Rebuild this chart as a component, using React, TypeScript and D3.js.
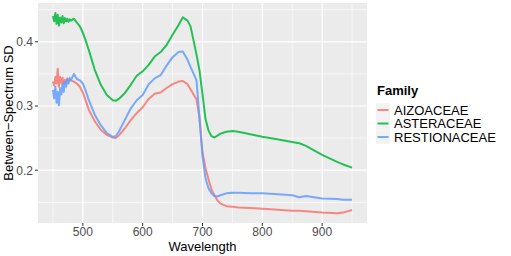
import React from 'react';
import * as d3 from 'd3';

// wavelengths shared by the three families
const wavelengths = [
  450, 452, 454, 456, 458, 460, 462, 464, 466, 468, 470, 472, 474, 476, 478, 480,
  485, 490, 495, 500, 505, 510, 520, 530, 540, 550, 555, 560, 570, 580, 590, 600,
  610, 620, 630, 640, 650, 660, 667, 675, 680, 690, 695, 700, 705, 710, 715, 720,
  725, 730, 740, 750, 760, 780, 800, 820, 850, 862, 873, 900, 925, 935, 950,
];

const aizoaceae = [
  0.338, 0.332, 0.345, 0.335, 0.358, 0.330, 0.345, 0.336, 0.344, 0.333, 0.341, 0.336, 0.343, 0.338, 0.341, 0.340,
  0.338, 0.335, 0.330, 0.321, 0.308, 0.294, 0.276, 0.263, 0.255, 0.251, 0.250, 0.254, 0.265, 0.278, 0.289, 0.298,
  0.311, 0.319, 0.321, 0.328, 0.334, 0.338, 0.339, 0.334, 0.326, 0.310, 0.282, 0.228, 0.203, 0.186, 0.170, 0.161,
  0.153, 0.148, 0.144, 0.143, 0.142, 0.141, 0.140, 0.139, 0.137, 0.137, 0.136, 0.134, 0.133, 0.134, 0.138,
];

const asteraceae = [
  0.440, 0.432, 0.445, 0.428, 0.442, 0.425, 0.438, 0.430, 0.440, 0.429, 0.437, 0.432, 0.436, 0.431, 0.435, 0.433,
  0.436, 0.430, 0.424, 0.414, 0.401, 0.387, 0.356, 0.333, 0.317, 0.309, 0.308, 0.311, 0.320, 0.333, 0.347, 0.354,
  0.364, 0.377, 0.384, 0.395, 0.411, 0.426, 0.438, 0.433, 0.424, 0.380, 0.355, 0.318, 0.280, 0.262, 0.253, 0.251,
  0.254, 0.257, 0.260, 0.261, 0.260, 0.256, 0.252, 0.249, 0.244, 0.242, 0.238, 0.224, 0.213, 0.209, 0.204,
];

const restionaceae = [
  0.325, 0.312, 0.330, 0.305, 0.322, 0.301, 0.328, 0.318, 0.335, 0.322, 0.338, 0.330, 0.342, 0.335, 0.344, 0.340,
  0.350, 0.342, 0.340, 0.335, 0.323, 0.309, 0.286, 0.270, 0.258, 0.252, 0.253, 0.260, 0.278, 0.296, 0.309, 0.317,
  0.334, 0.343, 0.348, 0.363, 0.376, 0.384, 0.385, 0.372, 0.361, 0.340, 0.280, 0.222, 0.188, 0.172, 0.164, 0.160,
  0.159, 0.161, 0.164, 0.165, 0.165, 0.164, 0.164, 0.163, 0.161, 0.158, 0.160, 0.156, 0.155, 0.154, 0.154,
];

const families = ['AIZOACEAE', 'ASTERACEAE', 'RESTIONACEAE'];
const seriesValues = [aizoaceae, asteraceae, restionaceae];
const familyColors = ['#F8766D', '#00BA38', '#619CFF'];

const xTicks = [500, 600, 700, 800, 900];
const xMinor = [450, 550, 650, 750, 850, 950];
const yTicks = [0.2, 0.3, 0.4];
const yMinor = [0.15, 0.25, 0.35, 0.45];

export default function App() {
  const panel = { left: 38, right: 367, top: 3, bottom: 223 };

  const x = d3.scaleLinear().domain([425, 975]).range([panel.left, panel.right]);
  const y = d3.scaleLinear().domain([0.1178, 0.4604]).range([panel.bottom, panel.top]);

  const line = d3.line<[number, number]>()
    .x(d => x(d[0]))
    .y(d => y(d[1]));

  const font = 'Liberation Sans, Arial, sans-serif';

  return (
    <svg width={511} height={256} style={{ position: 'absolute', left: 0, top: 0 }} fontFamily={font}>
      <rect width={511} height={256} fill="#fff" />
      <rect x={panel.left} y={panel.top} width={panel.right - panel.left} height={panel.bottom - panel.top} fill="#EBEBEB" />
      {xMinor.map(t => (
        <line key={'xm' + t} x1={x(t)} x2={x(t)} y1={panel.top} y2={panel.bottom} stroke="#fff" strokeWidth={0.6} />
      ))}
      {yMinor.map(t => (
        <line key={'ym' + t} y1={y(t)} y2={y(t)} x1={panel.left} x2={panel.right} stroke="#fff" strokeWidth={0.6} />
      ))}
      {xTicks.map(t => (
        <line key={'x' + t} x1={x(t)} x2={x(t)} y1={panel.top} y2={panel.bottom} stroke="#fff" strokeWidth={1.2} />
      ))}
      {yTicks.map(t => (
        <line key={'y' + t} y1={y(t)} y2={y(t)} x1={panel.left} x2={panel.right} stroke="#fff" strokeWidth={1.2} />
      ))}

      {seriesValues.map((vals, i) => (
        <path
          key={families[i]}
          d={line(wavelengths.map((w, j) => [w, vals[j]] as [number, number])) || ''}
          fill="none"
          stroke={familyColors[i]}
          strokeOpacity={0.85}
          strokeWidth={2}
          strokeLinejoin="round"
        />
      ))}

      {/* axes */}
      {xTicks.map(t => (
        <g key={'xt' + t}>
          <line x1={x(t)} x2={x(t)} y1={panel.bottom} y2={panel.bottom + 3} stroke="#333" strokeWidth={1} />
          <text x={x(t)} y={panel.bottom + 13} textAnchor="middle" fontSize={12} fill="#4D4D4D">{t}</text>
        </g>
      ))}
      {yTicks.map(t => (
        <g key={'yt' + t}>
          <line x1={panel.left - 3} x2={panel.left} y1={y(t)} y2={y(t)} stroke="#333" strokeWidth={1} />
          <text x={panel.left - 5} y={y(t) + 4.3} textAnchor="end" fontSize={12} fill="#4D4D4D">{t.toFixed(1)}</text>
        </g>
      ))}
      <text x={(panel.left + panel.right) / 2} y={251} textAnchor="middle" fontSize={13} fill="#000">Wavelength</text>
      <text transform={`translate(13,${(panel.top + panel.bottom) / 2}) rotate(-90)`} textAnchor="middle" fontSize={13} fill="#000">
        Between−Spectrum SD
      </text>

      {/* legend */}
      <text x={377} y={95} fontSize={13} fontWeight="bold" fill="#000">Family</text>
      {families.map((f, i) => {
        const cy = 110 + i * 13.5;
        return (
          <g key={'lg' + f}>
            <rect x={376} y={cy - 6.75} width={14} height={13.5} fill="#F2F2F2" />
            <line x1={377.5} x2={388.5} y1={cy} y2={cy} stroke={familyColors[i]} strokeOpacity={0.85} strokeWidth={2} />
            <text x={394} y={cy + 4.6} fontSize={13} fill="#000">{f}</text>
          </g>
        );
      })}
    </svg>
  );
}
